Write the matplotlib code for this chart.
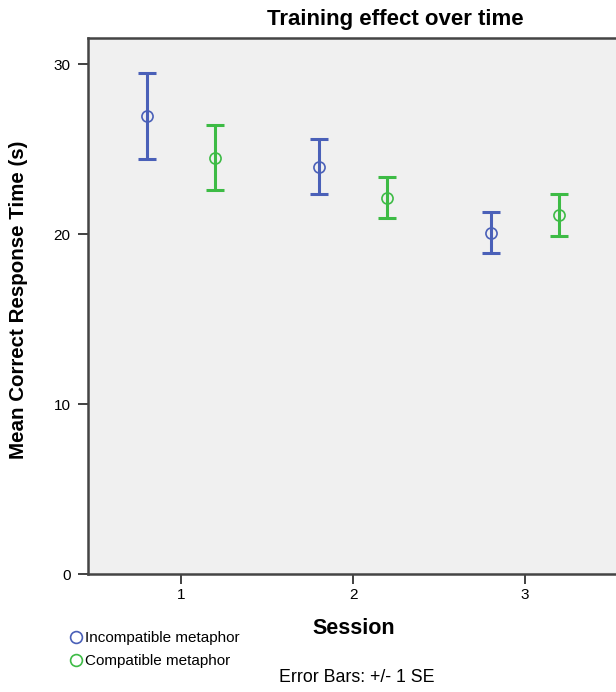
import numpy as np
import matplotlib
matplotlib.use("Agg")
import matplotlib.pyplot as plt
from matplotlib.lines import Line2D

plt.rcParams['font.family'] = ['Liberation Sans', 'DejaVu Sans']

# data
sessions = [1, 2, 3]
incompat_mean = [26.96, 23.96, 20.10]
incompat_se = [2.53, 1.62, 1.20]
compat_mean = [24.51, 22.14, 21.14]
compat_se = [1.89, 1.20, 1.25]

blue = '#4a60b8'
green = '#3dbb45'
offset = 0.2

fig = plt.figure(figsize=(6.16, 6.92), dpi=100)
ax = fig.add_axes([88 / 616, 1 - 574 / 692, 530 / 616, 536 / 692])
ax.set_facecolor('#f0f0f0')

x = np.array(sessions, dtype=float)
for xs, m, se, c in [(x - offset, incompat_mean, incompat_se, blue),
                     (x + offset, compat_mean, compat_se, green)]:
    ax.errorbar(xs, m, yerr=se, fmt='none', ecolor=c, elinewidth=2.2,
                capsize=6.2, capthick=2.2)
    ax.plot(xs, m, 'o', mfc='none', mec=c, ms=8, mew=1.2)

ax.set_xlim(0.46, 3.54)
ax.set_ylim(0, 31.55)
ax.set_xticks(sessions)
ax.set_yticks([0, 10, 20, 30])
ax.tick_params(axis='both', direction='out', length=7, width=1.3,
               color='#333333', labelsize=11)
ax.tick_params(axis='y', pad=5.5)
ax.tick_params(axis='x', pad=3)
for s in ['left', 'top', 'bottom']:
    ax.spines[s].set_color('#444444')
    ax.spines[s].set_linewidth(1.8)
ax.spines['right'].set_visible(False)

fig.text(19 / 616, 1 - 300 / 692, 'Mean Correct Response Time (s)',
         rotation=90, ha='center', va='center', fontsize=14.8,
         fontweight='bold')
fig.text(354 / 616, 1 - 628 / 692, 'Session', ha='center', va='center',
         fontsize=15.5, fontweight='bold')
fig.text(395 / 616, 1 - 19 / 692, 'Training effect over time', ha='center',
         va='center', fontsize=16, fontweight='bold')

handles = [Line2D([], [], ls='none', marker='o', mfc='none', mec=blue, ms=8.5, mew=1.2),
           Line2D([], [], ls='none', marker='o', mfc='none', mec=green, ms=8.5, mew=1.2)]
fig.legend(handles, ['Incompatible metaphor', 'Compatible metaphor'],
           loc='upper left', bbox_to_anchor=(69 / 616, 1 - 631 / 692),
           frameon=False, fontsize=11, handletextpad=0.15, handlelength=0.9,
           labelspacing=0.6, borderpad=0, borderaxespad=0)

fig.text(357 / 616, 1 - 678 / 692, 'Error Bars: +/- 1 SE', ha='center',
         va='center', fontsize=12.8)

plt.savefig('out.png', dpi=100)
plt.close(fig)
